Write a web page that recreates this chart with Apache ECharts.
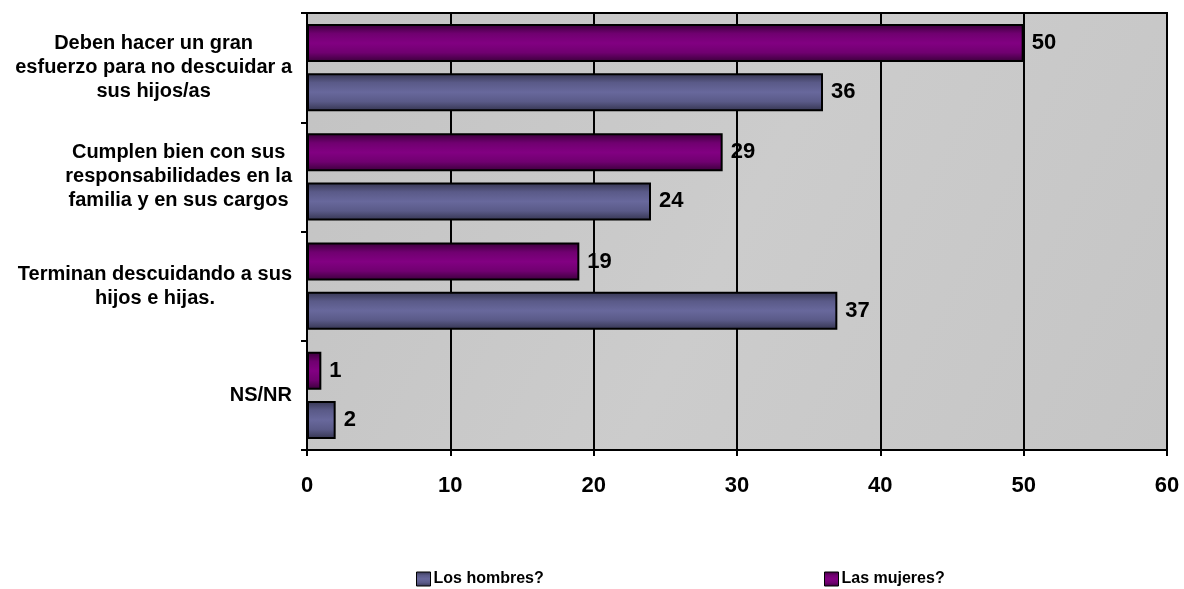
<!DOCTYPE html>
<html>
<head>
<meta charset="utf-8">
<script src="https://cdn.jsdelivr.net/npm/echarts@6/dist/echarts.min.js"></script>
<style>
html,body{margin:0;padding:0;background:#fff;}
#chart{width:1184px;height:589px;}
</style>
</head>
<body>
<div id="chart"></div>
<script>
const categories = [
  "Deben hacer un gran\nesfuerzo para no descuidar a\nsus hijos/as",
  "Cumplen bien con sus\nresponsabilidades en la\nfamilia y en sus cargos",
  "Terminan descuidando a sus\nhijos e hijas.",
  "NS/NR"
];
const seriesNames = ["Los hombres?", "Las mujeres?"];
const hombres = [36, 24, 37, 2];
const mujeres = [50, 29, 19, 1];
const xTicks = [0, 10, 20, 30, 40, 50, 60];

const FONT = "'Liberation Sans', Arial, sans-serif";

function grad(edge, mid, center) {
  return new echarts.graphic.LinearGradient(0, 0, 0, 1, [
    {offset: 0, color: edge},
    {offset: 0.25, color: mid},
    {offset: 0.5, color: center},
    {offset: 0.75, color: mid},
    {offset: 1, color: edge}
  ]);
}
const purple = grad('#380038', '#700070', '#820082');
const blue = grad('#34344f', '#5a5a88', '#68689c');

const chart = echarts.init(document.getElementById('chart'), null, {renderer: 'canvas'});

const labelStyle = {
  show: true,
  position: 'right',
  distance: 8,
  color: '#000',
  fontFamily: FONT,
  fontWeight: 'bold',
  fontSize: 22
};

const legendText = {fontFamily: FONT, fontWeight: 'bold', fontSize: 16, color: '#000', padding: [0,0,0,-2]};

chart.setOption({
  backgroundColor: '#fff',
  animation: false,
  grid: {
    left: 307, right: 17, top: 13, bottom: 139,
    show: true,
    backgroundColor: new echarts.graphic.LinearGradient(0, 0, 1, 1, [
      {offset: 0, color: '#c3c3c3'},
      {offset: 0.5, color: '#cccccc'},
      {offset: 1, color: '#c5c5c5'}
    ]),
    borderColor: '#000',
    borderWidth: 2
  },
  legend: [
    {
      data: [seriesNames[0]],
      left: 411, top: 566,
      icon: 'rect', itemWidth: 14, itemHeight: 14, itemGap: 4,
      textStyle: legendText,
      itemStyle: {borderColor: '#000', borderWidth: 1}
    },
    {
      data: [seriesNames[1]],
      left: 819, top: 566,
      icon: 'rect', itemWidth: 14, itemHeight: 14, itemGap: 4,
      textStyle: legendText,
      itemStyle: {borderColor: '#000', borderWidth: 1}
    }
  ],
  xAxis: {
    type: 'value',
    min: xTicks[0], max: xTicks[xTicks.length - 1], interval: 10,
    axisLine: {show: true, lineStyle: {color: '#000', width: 2}},
    axisTick: {show: true, length: 6, lineStyle: {color: '#000', width: 2}},
    splitLine: {show: true, lineStyle: {color: '#000', width: 2}},
    axisLabel: {
      margin: 25,
      color: '#000', fontFamily: FONT, fontWeight: 'bold', fontSize: 22
    }
  },
  yAxis: {
    type: 'category',
    inverse: true,
    data: categories,
    axisLine: {show: true, lineStyle: {color: '#000', width: 2}},
    axisTick: {show: true, length: 6, lineStyle: {color: '#000', width: 2}},
    splitLine: {show: false},
    axisLabel: {
      margin: 15,
      align: 'right',
      formatter: function (v) {
        return v.split('\n').map(function (l) { return '{c|' + l + '}'; }).join('\n');
      },
      rich: {
        c: {
          align: 'center',
          color: '#000', fontFamily: FONT, fontWeight: 'bold', fontSize: 20, lineHeight: 24
        }
      }
    }
  },
  series: [
    {
      name: seriesNames[1],
      type: 'bar',
      data: mujeres,
      barWidth: 38,
      barGap: '29%',
      itemStyle: {color: purple, borderColor: '#000', borderWidth: 2},
      label: labelStyle
    },
    {
      name: seriesNames[0],
      type: 'bar',
      data: hombres,
      barWidth: 38,
      barGap: '29%',
      itemStyle: {color: blue, borderColor: '#000', borderWidth: 2},
      label: labelStyle
    }
  ]
});
</script>
</body>
</html>
